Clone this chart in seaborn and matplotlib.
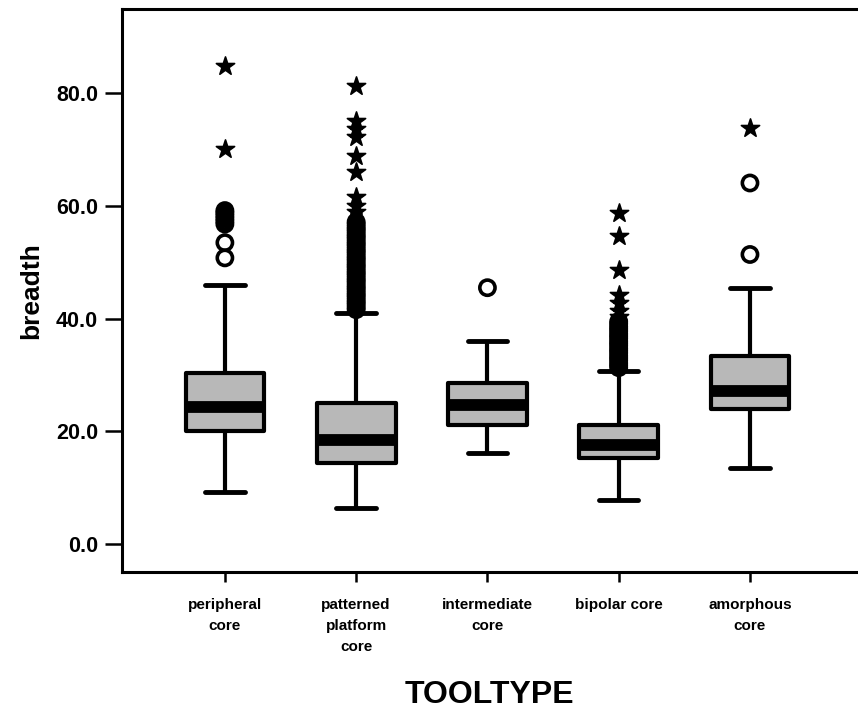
import numpy as np
import pandas as pd
import matplotlib
matplotlib.use("Agg")
import matplotlib.pyplot as plt
import seaborn as sns

# Tool types along the x axis
categories = ["peripheral\ncore", "patterned\nplatform\ncore", "intermediate\ncore",
              "bipolar core", "amorphous\ncore"]

# Five-number summaries of breadth per tool type
whisker_low = [9.2, 6.3, 16.1, 7.8, 13.5]
q1 = [20.0, 14.4, 21.2, 15.3, 23.9]
median = [24.3, 18.5, 24.7, 17.6, 27.1]
q3 = [30.4, 25.0, 28.5, 21.1, 33.3]
whisker_high = [45.9, 41.0, 36.0, 30.7, 45.5]

# Outliers (open circles) per tool type
outliers_peripheral = [50.8, 53.5, 56.8, 57.3, 57.8, 58.3, 58.8, 59.2]
outliers_patterned = [41.6, 42.0, 42.5, 42.9, 43.3, 43.8, 44.2, 44.6, 45.1, 45.5,
                      45.9, 46.4, 46.8, 47.2, 47.7, 48.1, 48.5, 49.0, 49.4, 49.8,
                      50.3, 50.7, 51.1, 51.6, 52.0, 52.4, 52.9, 53.3, 53.7, 54.2,
                      54.6, 55.0, 55.5, 55.9, 56.3, 56.8, 57.2]
outliers_intermediate = [45.5]
outliers_bipolar = [31.3, 31.7, 32.1, 32.6, 33.0, 33.4, 33.9, 34.3, 34.7, 35.2,
                    35.6, 36.0, 36.5, 36.9, 37.3, 37.8, 38.2, 38.6, 39.1, 39.5]
outliers_amorphous = [51.4, 64.1]

# Extreme values (stars) per tool type
extremes_peripheral = [70.2, 84.9]
extremes_patterned = [59.0, 60.1, 61.6, 66.0, 68.9, 72.2, 73.7, 75.1, 81.4]
extremes_intermediate = []
extremes_bipolar = [40.3, 41.3, 42.8, 44.2, 48.6, 54.7, 58.8]
extremes_amorphous = [73.8]

yticks = [0, 20, 40, 60, 80]

sns.set_style("ticks")
plt.rcParams["font.family"] = ["Liberation Sans", "DejaVu Sans"]
plt.rcParams["font.weight"] = "bold"
for key in ("text.color", "axes.labelcolor", "xtick.color", "ytick.color",
            "axes.edgecolor"):
    plt.rcParams[key] = "black"

# Long-format table: each group holds exactly its five summary values,
# so the quartiles come out as q1 / median / q3 and whiskers span min..max.
rows = []
for i, cat in enumerate(categories):
    for v in (whisker_low[i], q1[i], median[i], q3[i], whisker_high[i]):
        rows.append({"tooltype": cat, "breadth": v})
box_df = pd.DataFrame(rows)

outlier_groups = [outliers_peripheral, outliers_patterned, outliers_intermediate,
                  outliers_bipolar, outliers_amorphous]
extreme_groups = [extremes_peripheral, extremes_patterned, extremes_intermediate,
                  extremes_bipolar, extremes_amorphous]
out_df = pd.DataFrame([{"pos": i, "breadth": v}
                       for i, g in enumerate(outlier_groups) for v in g])
ext_df = pd.DataFrame([{"pos": i, "breadth": v}
                       for i, g in enumerate(extreme_groups) for v in g])

fig = plt.figure(figsize=(8.58, 7.11), dpi=100)
ax = fig.add_axes([0.142, 0.1955, 0.858, 0.7918])

sns.boxplot(data=box_df, x="tooltype", y="breadth", order=categories,
            whis=(0, 100), width=0.6, color="#b8b8b8", saturation=1,
            linecolor="black", linewidth=3, showfliers=False,
            boxprops=dict(joinstyle="round"),
            medianprops=dict(linewidth=8.5, solid_capstyle="butt"),
            whiskerprops=dict(linewidth=3),
            capprops=dict(linewidth=3.5),
            ax=ax)

sns.scatterplot(data=out_df, x="pos", y="breadth", marker="o", s=120,
                facecolor="none", edgecolor="black", linewidth=2.6,
                legend=False, ax=ax, zorder=4)
sns.scatterplot(data=ext_df, x="pos", y="breadth", marker="*", s=190,
                color="black", edgecolor="black", linewidth=1.2,
                legend=False, ax=ax, zorder=4)

ax.set_xlim(-0.785, 4.823)
ax.set_ylim(-5, 95)
ax.set_yticks(yticks)
ax.set_yticklabels([f"{v:.1f}" for v in yticks])
ax.set_xticks(range(len(categories)))
ax.set_xticklabels(categories)

ax.tick_params(axis="y", length=12, width=1.8, direction="out", labelsize=15.5, pad=5)
ax.tick_params(axis="x", length=7, width=1.8, direction="out", labelsize=11, pad=12)
for lbl in ax.get_xticklabels():
    lbl.set_fontweight("bold")
    lbl.set_linespacing(1.6)
for lbl in ax.get_yticklabels():
    lbl.set_fontweight("bold")

for side in ("left", "bottom", "top"):
    ax.spines[side].set_linewidth(2.2)
    ax.spines[side].set_color("black")
ax.spines["right"].set_visible(False)

ax.set_ylabel("breadth", fontsize=19, fontweight="bold", labelpad=9)
ax.set_xlabel("TOOLTYPE", fontsize=23, fontweight="bold", labelpad=19)

fig.savefig("out.png", dpi=100, facecolor="white")
